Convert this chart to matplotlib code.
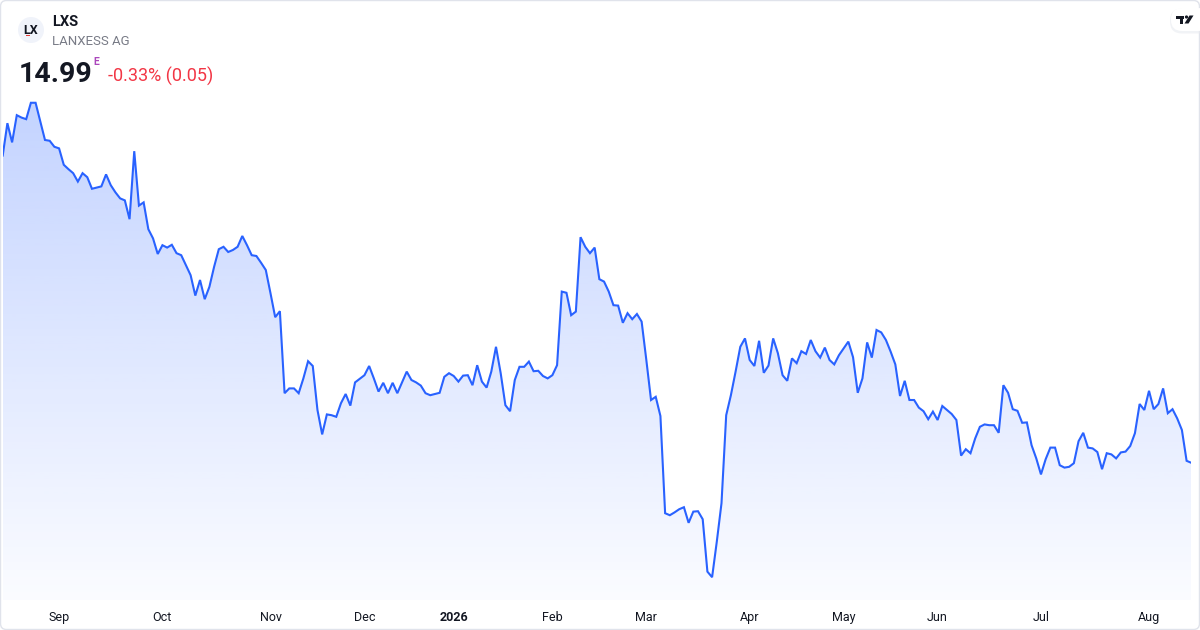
import matplotlib
matplotlib.use("Agg")
import matplotlib.pyplot as plt
import numpy as np
import pandas as pd
from matplotlib.patches import FancyBboxPatch, Circle, Rectangle, Polygon
from matplotlib.transforms import Affine2D, blended_transform_factory

# LANXESS AG (LXS), daily closes, Aug 2025 - Aug 2026
ticker = "LXS"
company = "LANXESS AG"
last_price = "14.99"
change_text = "-0.33% (0.05)"

start_date = "2025-08-14"
end_date = "2026-08-14"
holidays = ["2025-12-24", "2025-12-25", "2025-12-26", "2025-12-31",
            "2026-01-01", "2026-04-03", "2026-04-06", "2026-05-01"]

prices = [
    22.67, 23.48, 23.00, 23.68, 23.62, 23.58, 23.99, 23.99, 23.52, 23.06,
    23.04, 22.89, 22.85, 22.44, 22.33, 22.23, 22.02, 22.23, 22.13, 21.84,
    21.87, 21.90, 22.20, 21.93, 21.75, 21.60, 21.55, 21.08, 22.78, 21.42,
    21.50, 20.83, 20.60, 20.21, 20.43, 20.37, 20.44, 20.23, 20.18, 19.93,
    19.68, 19.17, 19.56, 19.08, 19.39, 19.89, 20.33, 20.39, 20.26, 20.31,
    20.39, 20.66, 20.43, 20.18, 20.16, 19.99, 19.81, 19.23, 18.63, 18.78,
    16.73, 16.85, 16.85, 16.73, 17.10, 17.53, 17.41, 16.31, 15.70, 16.20,
    16.18, 16.14, 16.48, 16.71, 16.42, 17.00, 17.09, 17.18, 17.41, 17.10,
    16.77, 16.99, 16.73, 16.99, 16.73, 17.00, 17.27, 17.06, 17.00, 16.92,
    16.73, 16.68, 16.71, 16.74, 17.14, 17.23, 17.16, 17.02, 17.17, 17.18,
    16.93, 17.43, 17.02, 16.87, 17.27, 17.89, 17.23, 16.43, 16.28, 17.06,
    17.39, 17.39, 17.52, 17.28, 17.29, 17.16, 17.10, 17.18, 17.43, 19.27,
    19.24, 18.68, 18.77, 20.63, 20.39, 20.23, 20.37, 19.58, 19.52, 19.27,
    18.93, 18.92, 18.49, 18.73, 18.58, 18.71, 18.52, 17.56, 16.56, 16.64,
    16.16, 13.73, 13.68, 13.75, 13.83, 13.88, 13.49, 13.77, 13.78, 13.58,
    12.27, 12.13, 13.02, 13.98, 16.18, 16.68, 17.27, 17.89, 18.10, 17.56,
    17.41, 18.04, 17.24, 17.42, 18.10, 17.73, 17.18, 17.04, 17.60, 17.48,
    17.78, 17.71, 18.06, 17.78, 17.62, 17.87, 17.56, 17.45, 17.68, 17.85,
    18.02, 17.63, 16.74, 17.10, 18.00, 17.62, 18.31, 18.25, 18.06, 17.77,
    17.45, 16.66, 17.04, 16.56, 16.56, 16.37, 16.28, 16.08, 16.27, 16.06,
    16.41, 16.31, 16.21, 16.06, 15.17, 15.33, 15.23, 15.60, 15.89, 15.95,
    15.93, 15.93, 15.74, 16.93, 16.74, 16.33, 16.29, 15.99, 16.00, 15.43,
    15.10, 14.70, 15.08, 15.37, 15.37, 14.93, 14.87, 14.89, 14.98, 15.53,
    15.74, 15.37, 15.35, 15.26, 14.83, 15.23, 15.20, 15.10, 15.25, 15.27,
    15.41, 15.73, 16.46, 16.31, 16.79, 16.33, 16.46, 16.85, 16.23, 16.33,
    16.10, 15.81, 15.04, 14.99,
]

dates = pd.bdate_range(start_date, end_date, freq="C", holidays=holidays)

W, H = 1200, 630
fig = plt.figure(figsize=(12, 6.3), dpi=100)
fig.patch.set_facecolor("white")
# pixel coordinates measured from the top-left corner
px = Affine2D().scale(1, -1).translate(0, H).scale(1 / 100) + fig.dpi_scale_trans

blue = "#2962FF"
plt.rcParams["font.family"] = ["Roboto", "DejaVu Sans"]

ax = fig.add_axes([2.7 / W, 1 - 600 / H, (1191.3 - 2.7) / W, (600 - 80) / H])
x = np.arange(len(prices))
y = np.array(prices)
rng = y.max() - y.min()
y0, y1 = y.min() - 0.048 * rng, y.max() + 0.048 * rng
ax.set_xlim(0, len(prices) - 1)
ax.set_ylim(y0, y1)
ax.axis("off")

# gradient area under the line
grad = np.zeros((256, 1, 4))
grad[..., 0] = 41 / 255
grad[..., 1] = 98 / 255
grad[..., 2] = 1.0
grad[:, 0, 3] = np.linspace(0.29, 0.02, 256)
im = ax.imshow(grad, extent=[0, len(prices) - 1, y0, y1], aspect="auto",
               origin="upper", zorder=1, interpolation="bilinear")
verts = np.column_stack([np.r_[x, x[-1], x[0]], np.r_[y, y0, y0]])
clip = Polygon(verts, closed=True, transform=ax.transData, fc="none", ec="none")
ax.add_patch(clip)
im.set_clip_path(clip)

ax.plot(x, y, color=blue, lw=1.5, zorder=3, solid_joinstyle="miter")

# month labels
tr = blended_transform_factory(ax.transData, px)
for i in range(1, len(dates)):
    if dates[i].month != dates[i - 1].month:
        if dates[i].month == 1:
            ax.text(i, 617.5, str(dates[i].year), transform=tr, ha="center",
                    va="center", fontsize=9, color="#131722", fontweight="bold")
        else:
            ax.text(i, 617.5, dates[i].strftime("%b"), transform=tr, ha="center",
                    va="center", fontsize=9, color="#131722")

# outer frame
fig.patches.append(FancyBboxPatch((0.5, 0.5), 1199, 629,
                                  boxstyle="round,pad=0,rounding_size=6",
                                  transform=px, fc="none", ec="#e0e3eb", lw=1))

# header
fig.patches.append(Circle((31, 30), 13, transform=px, fc="#f0f3fa", ec="none"))
fig.text(31, 30, "LX", transform=px, ha="center", va="center", fontsize=9,
         fontweight="bold", color="#131722")
fig.patches.append(Rectangle((25.5, 34.5), 4.5, 1.6, transform=px, fc="#e53935", ec="none"))
fig.text(52, 26, ticker, transform=px, ha="left", va="baseline", fontsize=10.5,
         fontweight="bold", color="#131722")
fig.text(52, 45, company, transform=px, ha="left", va="baseline", fontsize=9.5,
         color="#787b86")
fig.text(19, 81.5, last_price, transform=px, ha="left", va="baseline", fontsize=20.5,
         fontweight="bold", color="#131722")
fig.text(93.5, 65, "E", transform=px, ha="left", va="baseline", fontsize=7.5,
         fontweight="bold", color="#ab47bc")
fig.text(108, 81.5, change_text, transform=px, ha="left", va="baseline", fontsize=13,
         color="#F23645")

# TradingView badge
fig.patches.append(FancyBboxPatch((1170, 8.5), 40, 25, boxstyle="round,pad=0,rounding_size=12",
                                  transform=px, fc="#e9ebf0", ec="none", alpha=0.6))
fig.patches.append(FancyBboxPatch((1171, 8), 38, 23, boxstyle="round,pad=0,rounding_size=11",
                                  transform=px, fc="white", ec="none"))
fig.patches.append(Rectangle((1176, 15.5), 8, 3, transform=px, fc="#131722", ec="none"))
fig.patches.append(Rectangle((1180, 15.5), 3.2, 8, transform=px, fc="#131722", ec="none"))
fig.patches.append(Circle((1186.5, 17), 1.6, transform=px, fc="#131722", ec="none"))
fig.patches.append(Polygon([(1189.5, 15.5), (1193.5, 15.5), (1188.5, 23.5), (1184.5, 23.5)],
                           closed=True, transform=px, fc="#131722", ec="none"))

fig.savefig("out.png", dpi=100, facecolor="white")
